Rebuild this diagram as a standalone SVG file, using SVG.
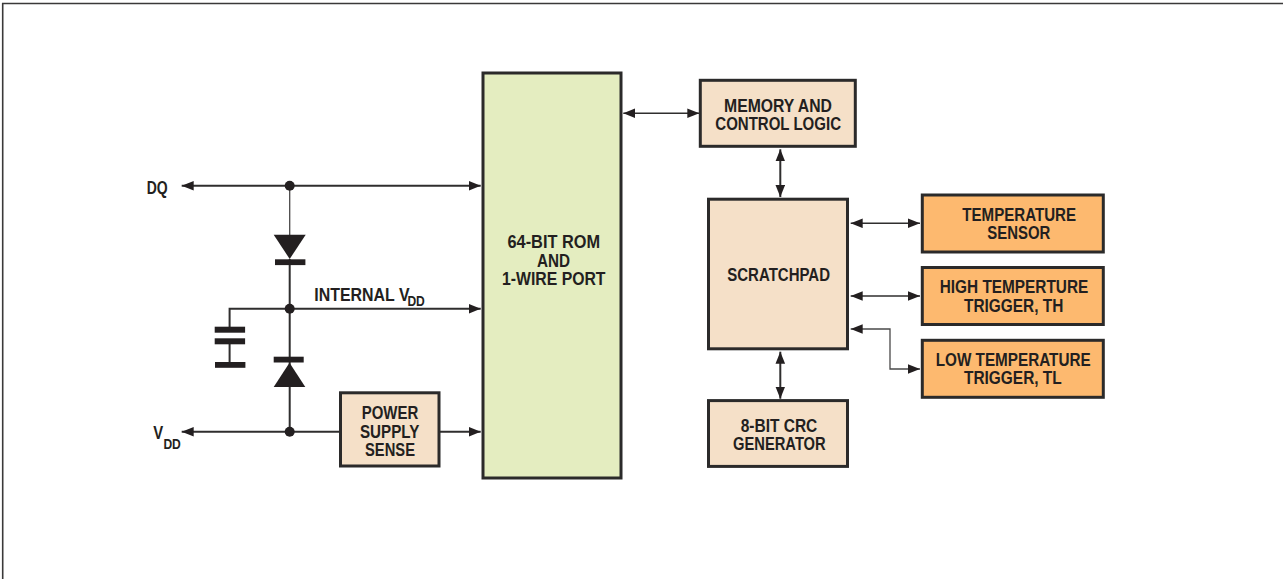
<svg xmlns="http://www.w3.org/2000/svg" width="1283" height="579" viewBox="0 0 1283 579">
<style>
.t{font-family:"Liberation Sans",Arial,sans-serif;font-weight:700;font-size:18.2px;fill:#231f20}
.s{font-size:15.5px}
.b{stroke:#2b2a2a;stroke-width:3}
.g{fill:#e4edc0}.p{fill:#f5e0c8}.o{fill:#fdb96f}
.c{fill:none;stroke:#2f2e2e;stroke-width:1.5}
.h{stroke-width:2}
.l{stroke-width:1.3;stroke:#4a4949}
.k{fill:#231f20}
</style>
<defs>
<marker id="a" markerUnits="userSpaceOnUse" markerWidth="13" markerHeight="11" refX="12" refY="5" orient="auto-start-reverse"><path d="M0,0.2L12,5L0,9.8z" fill="#231f20"/></marker>
</defs>
<rect width="1283" height="579" fill="#fff"/>
<path d="M2.7,579V3.5H1283" fill="none" stroke="#3a3939" stroke-width="1.6"/>
<g id="connectors">
<path class="c h" marker-start="url(#a)" marker-end="url(#a)" d="M181.7,185.7H480.7"/>
<path class="c h" marker-end="url(#a)" d="M289.7,308.7H480.7"/>
<path class="c h" marker-start="url(#a)" d="M181.7,431.7H340"/>
<path class="c h" marker-end="url(#a)" d="M439,431.7H480.7"/>
<path class="c l" d="M289.7,185.7V236"/>
<path class="c h" d="M289.7,259V431.7M289.7,308.7H229.6V329M229.6,341V365"/>
<path class="c" marker-start="url(#a)" marker-end="url(#a)" d="M623.3,113.3H699.3"/>
<path class="c h" marker-start="url(#a)" marker-end="url(#a)" d="M780.3,149.3V197"/>
<path class="c h" marker-start="url(#a)" marker-end="url(#a)" d="M780.3,351.7V398.7"/>
<path class="c" marker-start="url(#a)" marker-end="url(#a)" d="M850.7,223.3H920"/>
<path class="c" marker-start="url(#a)" marker-end="url(#a)" d="M850.7,296H920"/>
<path class="c l" marker-start="url(#a)" marker-end="url(#a)" d="M850.7,329H890V369H920"/>
</g>
<g id="junctions">
<circle class="k" cx="289.7" cy="185.7" r="5"/>
<circle class="k" cx="289.7" cy="308.7" r="5"/>
<circle class="k" cx="289.7" cy="431.7" r="5"/>
</g>
<g id="diode-top">
<path class="k" d="M273.7,234.7H305.7L289.7,259z"/>
<rect class="k" x="275" y="259.3" width="30.4" height="5.8"/>
</g>
<g id="diode-bottom">
<path class="k" d="M273.7,387H305.3L289.5,362.7z"/>
<rect class="k" x="273.7" y="356.7" width="30" height="5.8"/>
</g>
<g id="capacitor">
<rect class="k" x="214.7" y="326.7" width="30.4" height="6"/>
<rect class="k" x="214.7" y="338.3" width="30.4" height="6"/>
<rect class="k" x="215" y="362" width="30.4" height="5.8"/>
</g>
<g id="label-dq"><text class="t" x="146.7" y="194" textLength="21" lengthAdjust="spacingAndGlyphs">DQ</text></g>
<g id="label-internal-vdd">
<text class="t" transform="translate(314.3 301) scale(.875 1)">INTERNAL V</text>
<text class="t s" transform="translate(407.4 305.7) scale(.78 1)">DD</text>
</g>
<g id="label-vdd">
<text class="t" transform="translate(153.3 439.3) scale(.82 1)">V</text>
<text class="t s" transform="translate(163.4 449.3) scale(.78 1)">DD</text>
</g>
<g id="rom">
<rect class="b g" x="483" y="73" width="138" height="405"/>
<text class="t" x="507.5" y="248" textLength="92.5" lengthAdjust="spacingAndGlyphs">64-BIT ROM</text>
<text class="t" x="537" y="266.5" textLength="33" lengthAdjust="spacingAndGlyphs">AND</text>
<text class="t" x="502" y="285" textLength="103.5" lengthAdjust="spacingAndGlyphs">1-WIRE PORT</text>
</g>
<g id="power-supply-sense">
<rect class="b p" x="340.5" y="392.8" width="98.5" height="73.2"/>
<text class="t" x="361.7" y="419.3" textLength="56.6" lengthAdjust="spacingAndGlyphs">POWER</text>
<text class="t" x="360" y="438" textLength="59.3" lengthAdjust="spacingAndGlyphs">SUPPLY</text>
<text class="t" x="365" y="456.3" textLength="50" lengthAdjust="spacingAndGlyphs">SENSE</text>
</g>
<g id="memory">
<rect class="b p" x="700.3" y="80.3" width="155" height="66"/>
<text class="t" x="724" y="111.7" textLength="108" lengthAdjust="spacingAndGlyphs">MEMORY AND</text>
<text class="t" x="715.3" y="130" textLength="125.7" lengthAdjust="spacingAndGlyphs">CONTROL LOGIC</text>
</g>
<g id="scratchpad">
<rect class="b p" x="708.5" y="199.2" width="139" height="149.6"/>
<text class="t" x="727.3" y="281" textLength="102.7" lengthAdjust="spacingAndGlyphs">SCRATCHPAD</text>
</g>
<g id="crc">
<rect class="b p" x="708.5" y="400.6" width="139" height="65.8"/>
<text class="t" x="740.7" y="431.7" textLength="76.6" lengthAdjust="spacingAndGlyphs">8-BIT CRC</text>
<text class="t" x="733" y="450.3" textLength="92.7" lengthAdjust="spacingAndGlyphs">GENERATOR</text>
</g>
<g id="temperature-sensor">
<rect class="b o" x="922.3" y="195" width="181" height="57"/>
<text class="t" x="962.3" y="220.7" textLength="113.7" lengthAdjust="spacingAndGlyphs">TEMPERATURE</text>
<text class="t" x="987.3" y="239.3" textLength="63" lengthAdjust="spacingAndGlyphs">SENSOR</text>
</g>
<g id="high-trigger">
<rect class="b o" x="922.3" y="267.5" width="181" height="57"/>
<text class="t" x="939.7" y="293.3" textLength="148.6" lengthAdjust="spacingAndGlyphs">HIGH TEMPERTURE</text>
<text class="t" x="964" y="311.7" textLength="99.3" lengthAdjust="spacingAndGlyphs">TRIGGER, TH</text>
</g>
<g id="low-trigger">
<rect class="b o" x="922.3" y="340.3" width="181" height="57"/>
<text class="t" x="935.7" y="365.7" textLength="155" lengthAdjust="spacingAndGlyphs">LOW TEMPERATURE</text>
<text class="t" x="964" y="384" textLength="97.7" lengthAdjust="spacingAndGlyphs">TRIGGER, TL</text>
</g>
</svg>
